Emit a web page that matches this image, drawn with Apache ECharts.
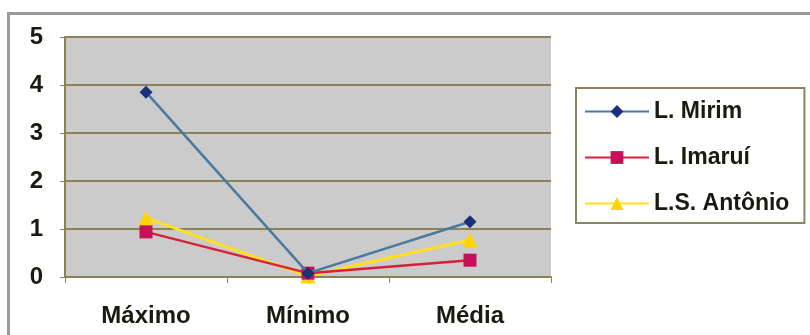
<!DOCTYPE html>
<html>
<head>
<meta charset="utf-8">
<script src="https://cdn.jsdelivr.net/npm/echarts@6/dist/echarts.min.js"></script>
<style>
  html, body { margin: 0; padding: 0; background: #ffffff; }
  #chart { width: 810px; height: 335px; }
</style>
</head>
<body>
<div id="chart"></div>
<script>
// Categories and values per lagoon
const categories = ['Máximo', 'Mínimo', 'Média'];
const mirim = [3.85, 0.08, 1.15];
const imarui = [0.94, 0.08, 0.35];
const santoAntonio = [1.23, 0.02, 0.77];
const yTicks = [0, 1, 2, 3, 4, 5];

const chart = echarts.init(document.getElementById('chart'));

const labelFont = {
  fontFamily: '"Liberation Sans", Arial, sans-serif',
  fontWeight: 'bold',
  fontSize: 24,
  color: '#1a1a10'
};

chart.setOption({
  animation: false,
  backgroundColor: '#ffffff',
  graphic: [
    {
      type: 'rect',
      shape: { x: 8.5, y: 13.5, width: 820, height: 340 },
      style: { fill: 'none', stroke: '#9a9a9a', lineWidth: 3 }
    }
  ],
  grid: { left: 65, top: 37, width: 486, height: 240, backgroundColor: '#cbcbcb', show: true, borderWidth: 0 },
  legend: {
    orient: 'vertical',
    left: 576,
    top: 88,
    padding: [12, 15, 8, 8],
    itemGap: 23,
    itemWidth: 64,
    itemHeight: 16,
    borderColor: '#8a8460',
    borderWidth: 2,
    backgroundColor: '#ffffff',
    textStyle: Object.assign({}, labelFont, { fontSize: 23 }),
    data: ['L. Mirim', 'L. Imaruí', 'L.S. Antônio']
  },
  xAxis: {
    type: 'category',
    data: categories,
    boundaryGap: true,
    axisLine: { lineStyle: { color: '#8a8055', width: 2 } },
    axisTick: { show: true, length: 6, lineStyle: { color: '#8a8055' } },
    axisLabel: Object.assign({ margin: 27 }, labelFont)
  },
  yAxis: {
    type: 'value',
    min: 0,
    max: 5,
    interval: 1,
    axisLine: { show: true, lineStyle: { color: '#8a8055', width: 2 } },
    axisTick: { show: true, length: 5, lineStyle: { color: '#8a8055' } },
    splitLine: { show: true, lineStyle: { color: '#8c8258', width: 2 } },
    axisLabel: Object.assign({ margin: 22, formatter: v => yTicks.includes(v) ? String(v) : '' }, labelFont)
  },
  series: [
    {
      name: 'L. Mirim',
      type: 'line',
      data: mirim,
      symbol: 'diamond',
      symbolSize: 13,
      itemStyle: { color: '#1d2f7a' },
      lineStyle: { color: '#4a7aa0', width: 2.5 },
      z: 3
    },
    {
      name: 'L. Imaruí',
      type: 'line',
      data: imarui,
      symbol: 'rect',
      symbolSize: 13,
      itemStyle: { color: '#c8105a' },
      lineStyle: { color: '#d8203a', width: 2.5 },
      z: 2
    },
    {
      name: 'L.S. Antônio',
      type: 'line',
      data: santoAntonio,
      symbol: 'triangle',
      symbolSize: 15,
      itemStyle: { color: '#ffd400' },
      lineStyle: { color: '#ffe020', width: 3 },
      z: 1
    }
  ]
});
</script>
</body>
</html>
